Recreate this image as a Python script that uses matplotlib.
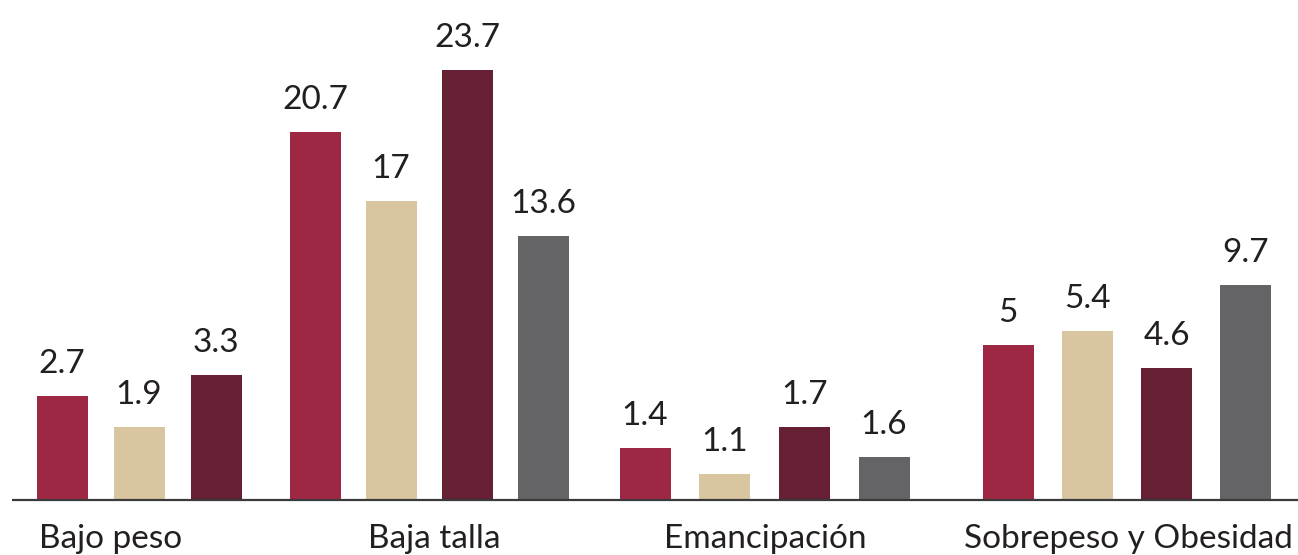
import numpy as np
import matplotlib
matplotlib.use("Agg")
import matplotlib.pyplot as plt

plt.rcParams['font.family'] = ['Lato', 'DejaVu Sans']

categories = ['Bajo peso', 'Baja talla', 'Emancipación', 'Sobrepeso y Obesidad']
# labelled values per group (series order: red, beige, dark red, gray)
values = [
    [2.7, 1.9, 3.3],
    [20.7, 17, 23.7, 13.6],
    [1.4, 1.1, 1.7, 1.6],
    [5, 5.4, 4.6, 9.7],
]
# bar heights as drawn in the original (not proportional to the labels)
drawn = [
    [5.73, 4.02, 6.89],
    [20.28, 16.48, 23.7, 14.55],
    [2.87, 1.43, 4.02, 2.37],
    [8.54, 9.31, 7.28, 11.85],
]
labels = [['2.7', '1.9', '3.3'],
          ['20.7', '17', '23.7', '13.6'],
          ['1.4', '1.1', '1.7', '1.6'],
          ['5', '5.4', '4.6', '9.7']]

colors = ['#9E2843', '#D9C6A0', '#661F33', '#646466']
text_color = '#231F20'

W, H = 1298, 555
fig = plt.figure(figsize=(W / 100, H / 100), dpi=100)
ax = fig.add_axes([0, 0, 1, 1])

px = 23.7 / 430.0          # data units per pixel
ax.set_xlim(0, W)
ax.set_ylim(-55 * px, 500 * px)
ax.axis('off')

group_start = [62, 315, 645, 1008]
group_step = [77, 76, 79.7, 79.3]
bar_w = 51
label_x = [111, 434, 765, 1128]

for g, (vals, hts, labs) in enumerate(zip(values, drawn, labels)):
    for i, (h, lab) in enumerate(zip(hts, labs)):
        x = group_start[g] + i * group_step[g]
        ax.bar(x, h, width=bar_w, color=colors[i], zorder=2)
        ax.text(x, h + 23 * px, lab, ha='center', va='baseline',
                fontsize=24, color=text_color)
    ax.text(label_x[g], -48 * px, categories[g], ha='center', va='baseline',
            fontsize=24, color=text_color)

ax.plot([12, W], [0, 0], color='#3A3A3C', lw=1.6, zorder=3,
        solid_capstyle='butt')

fig.savefig('out.png', dpi=100)
